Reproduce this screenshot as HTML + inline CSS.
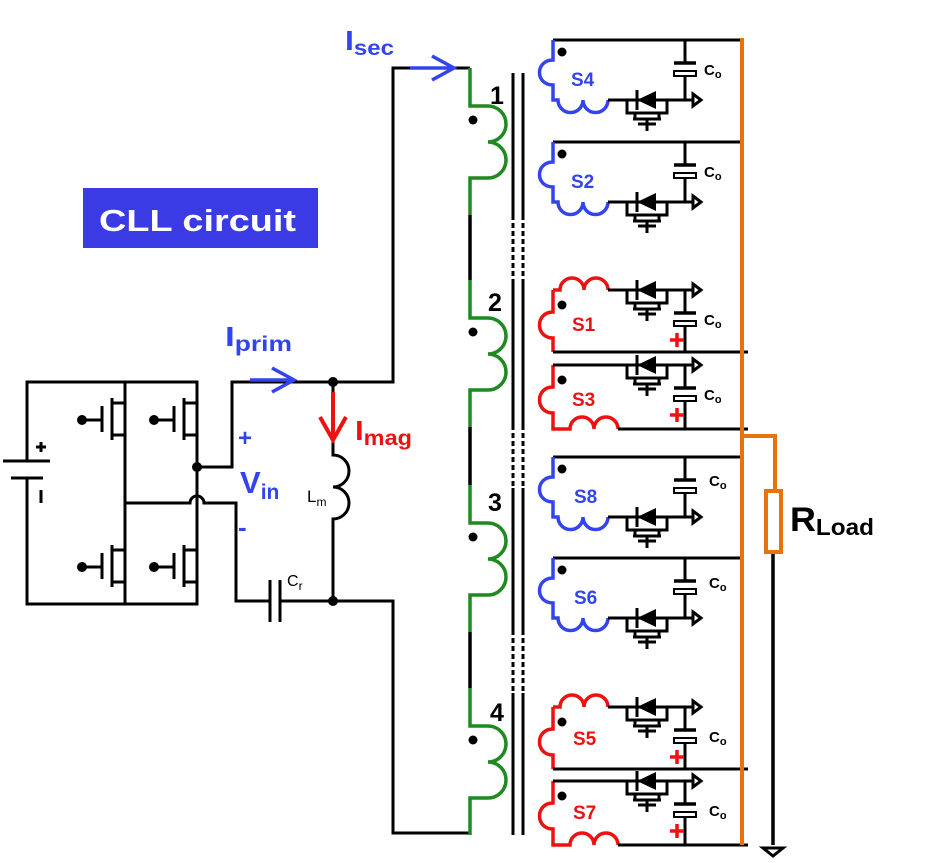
<!DOCTYPE html>
<html><head><meta charset="utf-8"><style>
html,body{margin:0;padding:0;background:#fff;}
svg{display:block;font-family:"Liberation Sans",Arial,sans-serif;}
</style></head><body>
<svg width="926" height="863" viewBox="0 0 926 863" xmlns="http://www.w3.org/2000/svg">
<defs>
  <g id="dm">
    <polygon points="637,0 656,-9 656,9" fill="#000"/>
    <line x1="637" y1="-10" x2="637" y2="10" stroke="#000" stroke-width="3"/>
    <path d="M627,0 V13 H667 V0 M635,13 V19 M659,13 V19 M633,19 H661 M647,19 V24 M638,24 H656 M647,24 V31" fill="none" stroke="#000" stroke-width="3"/>
  </g>
  <g id="cap">
    <path d="M685,23 H674 H696" stroke="#000" stroke-width="3.5" fill="none"/>
    <rect x="674" y="31" width="22" height="5" fill="#fff" stroke="#000" stroke-width="2"/>
  </g>
  <g id="arr">
    <path d="M685,0 H693 M693,-6 L701,0 L693,6 Z" fill="none" stroke="#000" stroke-width="3" stroke-linejoin="miter"/>
  </g>
  <g id="bc">
    <path d="M553,0 H742" stroke="#000" stroke-width="3"/>
    <path d="M553,0 V20 C535,20 535,45 553,45 V60 H558 a12.5,12.5 0 0 0 25,0 a12.5,12.5 0 0 0 25,0" fill="none" stroke="#3344ee" stroke-width="3.5"/>
    <path d="M608,60 H685 V36 M685,23 V0" fill="none" stroke="#000" stroke-width="3"/>
    <use href="#cap"/>
    <g transform="translate(0,60)"><use href="#dm"/><use href="#arr"/></g>
    <circle cx="562" cy="12" r="4.5" fill="#000"/>
  </g>
  <g id="rt">
    <path d="M553,0 V22 C535,22 535,48 553,48 V62" fill="none" stroke="#ee1111" stroke-width="3.5"/>
    <path d="M553,0 H560 a12,12 0 0 1 24,0 a12,12 0 0 1 24,0" fill="none" stroke="#ee1111" stroke-width="3.5"/>
    <path d="M608,0 H685 V23 M685,36 V62 M553,62 H748" fill="none" stroke="#000" stroke-width="3"/>
    <use href="#cap"/>
    <use href="#dm"/><use href="#arr"/>
    <circle cx="562" cy="15" r="4.5" fill="#000"/>
    <path d="M670,50 H684 M677,43 V57" stroke="#ee1111" stroke-width="3.5"/>
  </g>
  <g id="rb">
    <path d="M553,0 V22 C535,22 535,48 553,48 V64 H570 a12,12 0 0 1 24,0 a12,12 0 0 1 24,0" fill="none" stroke="#ee1111" stroke-width="3.5"/>
    <path d="M553,0 H685 V23 M685,36 V64 H748 M618,64 H685" fill="none" stroke="#000" stroke-width="3"/>
    <use href="#cap"/>
    <use href="#dm"/><use href="#arr"/>
    <circle cx="562" cy="15" r="4.5" fill="#000"/>
    <path d="M670,50 H684 M677,43 V57" stroke="#ee1111" stroke-width="3.5"/>
  </g>
  <g id="mosL">
    <path d="M125,-17 H112 M112,-22 V20 M125,15 H112 M102,-14 V12 M82,0 H102" fill="none" stroke="#000" stroke-width="3"/>
    <circle cx="82" cy="0" r="5" fill="#000"/>
  </g>
  <g id="win">
    <path d="M470,0 V38 H488 a18,18 0 0 1 0,36 a18,18 0 0 1 0,36 H470 V147" fill="none" stroke="#1f8a1f" stroke-width="3.5"/>
    <circle cx="473" cy="52" r="4.5" fill="#000"/>
  </g>
</defs>

<rect x="83" y="188" width="235" height="60" fill="#3b3be6"/>
<text x="99" y="231" font-size="31" font-weight="bold" fill="#fff" textLength="197" lengthAdjust="spacingAndGlyphs">CLL circuit</text>

<g fill="none" stroke="#000" stroke-width="3">
  <path d="M27,460 V382 H197 V604 H27 V478"/>
  <path d="M125,382 V604"/>
  <path d="M3,461 H50 M11,478 H43"/>
  <path d="M197,467 H232 V382 H393 V68 H470"/>
  <path d="M125,503 H190 A7,7 0 0 1 204,503 H236 V601 H270 M280,601 H393 V833 H470"/>
  <path d="M270,580 V622 M280,580 V622"/>
  <path d="M333,382 V455 a16,16 0 0 1 0,32 a16,16 0 0 1 0,32 V601"/>
</g>
<path d="M41,442 V452 M36,447 H46 M41,490 V503" stroke="#000" stroke-width="3"/>
<use href="#mosL" transform="translate(0,420)"/>
<use href="#mosL" transform="translate(0,567)"/>
<use href="#mosL" transform="translate(72,420)"/>
<use href="#mosL" transform="translate(72,567)"/>
<circle cx="197" cy="467" r="5" fill="#000"/>
<circle cx="333" cy="382" r="5" fill="#000"/>
<circle cx="333" cy="601" r="5" fill="#000"/>
<text x="287" y="586" font-size="16" fill="#000">C<tspan font-size="12" dy="4">r</tspan></text>
<text x="307" y="502" font-size="17" fill="#000">L<tspan font-size="12" dy="4">m</tspan></text>

<path d="M250,380 H293 M272,368 L294,380 L272,392" fill="none" stroke="#3344ee" stroke-width="3.5"/>
<path d="M410,68 H453 M432,56 L454,68 L432,80" fill="none" stroke="#3344ee" stroke-width="3.5"/>
<path d="M333,392 V438 M320,417 L333,440 L346,417" fill="none" stroke="#ee1111" stroke-width="4"/>
<text x="225" y="346" font-size="28" font-weight="bold" fill="#3344ee" textLength="67" lengthAdjust="spacingAndGlyphs">I<tspan font-size="21" dy="5">prim</tspan></text>
<text x="345" y="50" font-size="28" font-weight="bold" fill="#3344ee" textLength="49" lengthAdjust="spacingAndGlyphs">I<tspan font-size="21" dy="5">sec</tspan></text>
<text x="355" y="440" font-size="28" font-weight="bold" fill="#ee1111" textLength="57" lengthAdjust="spacingAndGlyphs">I<tspan font-size="21" dy="5">mag</tspan></text>
<text x="238" y="446" font-size="24" font-weight="bold" fill="#3344ee">+</text>
<text x="240" y="493" font-size="31" font-weight="bold" fill="#3344ee">V<tspan font-size="21" dy="6">in</tspan></text>
<text x="238" y="536" font-size="26" font-weight="bold" fill="#3344ee">-</text>

<use href="#win" transform="translate(0,68)"/>
<use href="#win" transform="translate(0,280)"/>
<use href="#win" transform="translate(0,485)"/>
<use href="#win" transform="translate(0,688)"/>
<path d="M470,215 V280 M470,427 V485 M470,632 V688" stroke="#000" stroke-width="3.5"/>
<g stroke="#000" stroke-width="3">
  <path d="M513,73 V215 M523,73 V215 M513,283 V425 M523,283 V425 M513,488 V630 M523,488 V630 M513,693 V835 M523,693 V835"/>
  <path d="M513,215 V283 M523,215 V283 M513,425 V488 M523,425 V488 M513,630 V693 M523,630 V693" stroke-dasharray="5,3"/>
</g>
<g font-size="25" font-weight="bold" fill="#000">
  <text x="490" y="104">1</text>
  <text x="488" y="311">2</text>
  <text x="488" y="511">3</text>
  <text x="490" y="721">4</text>
</g>

<use href="#bc" transform="translate(0,40)"/>
<use href="#bc" transform="translate(0,142)"/>
<use href="#rt" transform="translate(0,290)"/>
<use href="#rb" transform="translate(0,365)"/>
<use href="#bc" transform="translate(0,457)"/>
<use href="#bc" transform="translate(0,558)"/>
<use href="#rt" transform="translate(0,707)"/>
<use href="#rb" transform="translate(0,781)"/>

<g font-size="19" font-weight="bold">
  <text x="571" y="86" fill="#3344ee">S4</text>
  <text x="571" y="188" fill="#3344ee">S2</text>
  <text x="572" y="331" fill="#ee1111">S1</text>
  <text x="572" y="406" fill="#ee1111">S3</text>
  <text x="574" y="503" fill="#3344ee">S8</text>
  <text x="574" y="604" fill="#3344ee">S6</text>
  <text x="573" y="745" fill="#ee1111">S5</text>
  <text x="573" y="819" fill="#ee1111">S7</text>
</g>
<g font-size="15" font-weight="bold" fill="#000">
  <text x="704" y="75">C<tspan font-size="11" dy="3">o</tspan></text>
  <text x="704" y="177">C<tspan font-size="11" dy="3">o</tspan></text>
  <text x="704" y="325">C<tspan font-size="11" dy="3">o</tspan></text>
  <text x="704" y="400">C<tspan font-size="11" dy="3">o</tspan></text>
  <text x="709" y="486">C<tspan font-size="11" dy="3">o</tspan></text>
  <text x="709" y="588">C<tspan font-size="11" dy="3">o</tspan></text>
  <text x="709" y="742">C<tspan font-size="11" dy="3">o</tspan></text>
  <text x="709" y="816">C<tspan font-size="11" dy="3">o</tspan></text>
</g>

<path d="M773,552 V845" stroke="#000" stroke-width="3.5"/>
<path d="M763,848 H783 L773,856 Z" fill="none" stroke="#000" stroke-width="3"/>
<path d="M742,38 V845 M742,436 H775 V490" fill="none" stroke="#e8720c" stroke-width="4"/>
<rect x="766" y="491" width="15" height="61" fill="#fff" stroke="#e8720c" stroke-width="4"/>
<text x="790" y="531" font-size="34" font-weight="bold" fill="#000" textLength="84" lengthAdjust="spacingAndGlyphs">R<tspan font-size="23" dy="4">Load</tspan></text>
</svg>
</body></html>
